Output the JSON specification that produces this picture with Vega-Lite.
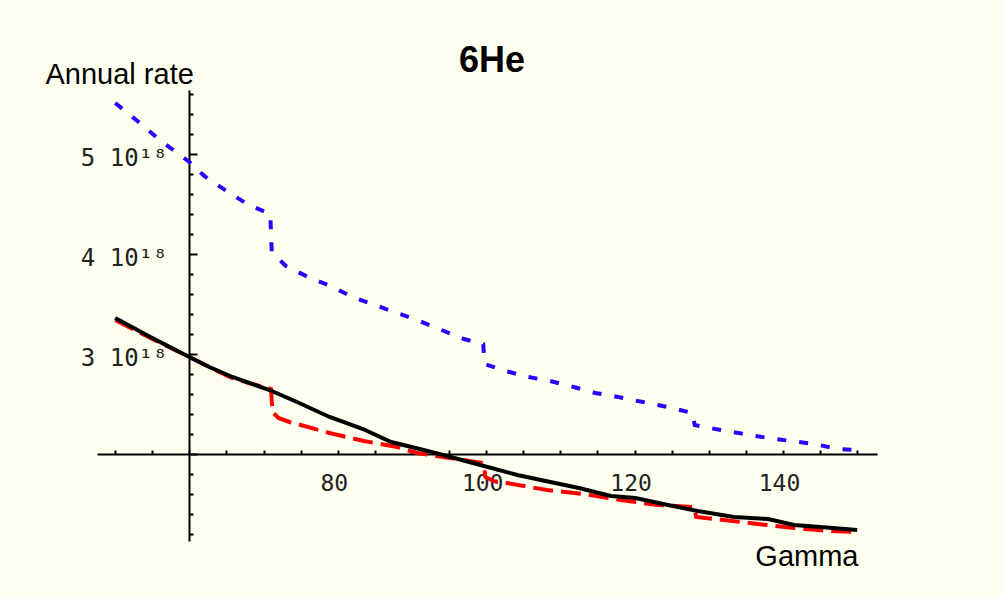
{
  "$schema": "https://vega.github.io/schema/vega-lite/v6.json",
  "width": 780,
  "height": 451,
  "autosize": {"type": "none"},
  "padding": {"left": 97, "top": 90, "right": 127, "bottom": 57},
  "background": "#FFFFF0",
  "config": {"view": {"stroke": null}},
  "title": {"text": "6He", "font": "Liberation Sans", "fontSize": 36, "fontWeight": "bold", "color": "#000000", "anchor": "middle", "frame": "group", "baseline": "alphabetic", "offset": -48, "dx": 5},
  "data": {"values": [
    {"series": "blue", "x": 50, "y": 5.51e18},
    {"series": "blue", "x": 53, "y": 5.33e18},
    {"series": "blue", "x": 56, "y": 5.14e18},
    {"series": "blue", "x": 60, "y": 4.92e18},
    {"series": "blue", "x": 62, "y": 4.78e18},
    {"series": "blue", "x": 65, "y": 4.63e18},
    {"series": "blue", "x": 68, "y": 4.49e18},
    {"series": "blue", "x": 70.9, "y": 4.40e18},
    {"series": "blue", "x": 71.1, "y": 4.02e18},
    {"series": "blue", "x": 73, "y": 3.88e18},
    {"series": "blue", "x": 76, "y": 3.77e18},
    {"series": "blue", "x": 79, "y": 3.68e18},
    {"series": "blue", "x": 82, "y": 3.57e18},
    {"series": "blue", "x": 85, "y": 3.49e18},
    {"series": "blue", "x": 88, "y": 3.41e18},
    {"series": "blue", "x": 91, "y": 3.33e18},
    {"series": "blue", "x": 94, "y": 3.24e18},
    {"series": "blue", "x": 97, "y": 3.15e18},
    {"series": "blue", "x": 99.6, "y": 3.10e18},
    {"series": "blue", "x": 99.8, "y": 2.90e18},
    {"series": "blue", "x": 102.6, "y": 2.83e18},
    {"series": "blue", "x": 105.7, "y": 2.77e18},
    {"series": "blue", "x": 108.6, "y": 2.73e18},
    {"series": "blue", "x": 111.8, "y": 2.67e18},
    {"series": "blue", "x": 114.7, "y": 2.61e18},
    {"series": "blue", "x": 117.8, "y": 2.57e18},
    {"series": "blue", "x": 121.1, "y": 2.52e18},
    {"series": "blue", "x": 124.5, "y": 2.47e18},
    {"series": "blue", "x": 127.8, "y": 2.41e18},
    {"series": "blue", "x": 128.1, "y": 2.29e18},
    {"series": "blue", "x": 131.6, "y": 2.24e18},
    {"series": "blue", "x": 134.7, "y": 2.20e18},
    {"series": "blue", "x": 138, "y": 2.16e18},
    {"series": "blue", "x": 141.1, "y": 2.13e18},
    {"series": "blue", "x": 144.2, "y": 2.10e18},
    {"series": "blue", "x": 147.4, "y": 2.05e18},
    {"series": "blue", "x": 150, "y": 2.04e18},
    {"series": "red", "x": 50, "y": 3.34e18},
    {"series": "red", "x": 55, "y": 3.15e18},
    {"series": "red", "x": 60, "y": 2.97e18},
    {"series": "red", "x": 62.7, "y": 2.87e18},
    {"series": "red", "x": 65.4, "y": 2.77e18},
    {"series": "red", "x": 68, "y": 2.71e18},
    {"series": "red", "x": 71, "y": 2.65e18},
    {"series": "red", "x": 71.2, "y": 2.42e18},
    {"series": "red", "x": 72, "y": 2.36e18},
    {"series": "red", "x": 73.5, "y": 2.32e18},
    {"series": "red", "x": 75, "y": 2.29e18},
    {"series": "red", "x": 78.9, "y": 2.21e18},
    {"series": "red", "x": 83.5, "y": 2.13e18},
    {"series": "red", "x": 88, "y": 2.07e18},
    {"series": "red", "x": 90.7, "y": 2.01e18},
    {"series": "red", "x": 95.1, "y": 1.96e18},
    {"series": "red", "x": 99.6, "y": 1.91e18},
    {"series": "red", "x": 99.9, "y": 1.77e18},
    {"series": "red", "x": 101, "y": 1.73e18},
    {"series": "red", "x": 102.8, "y": 1.71e18},
    {"series": "red", "x": 108.2, "y": 1.64e18},
    {"series": "red", "x": 113.1, "y": 1.60e18},
    {"series": "red", "x": 118.1, "y": 1.54e18},
    {"series": "red", "x": 123.1, "y": 1.49e18},
    {"series": "red", "x": 128, "y": 1.47e18},
    {"series": "red", "x": 128.3, "y": 1.37e18},
    {"series": "red", "x": 132, "y": 1.34e18},
    {"series": "red", "x": 136.6, "y": 1.30e18},
    {"series": "red", "x": 141.5, "y": 1.26e18},
    {"series": "red", "x": 146.1, "y": 1.23e18},
    {"series": "red", "x": 150, "y": 1.22e18},
    {"series": "black", "x": 50, "y": 3.36e18},
    {"series": "black", "x": 55, "y": 3.16e18},
    {"series": "black", "x": 60, "y": 2.97e18},
    {"series": "black", "x": 62.7, "y": 2.87e18},
    {"series": "black", "x": 65.8, "y": 2.77e18},
    {"series": "black", "x": 70.8, "y": 2.64e18},
    {"series": "black", "x": 74.5, "y": 2.52e18},
    {"series": "black", "x": 78.9, "y": 2.37e18},
    {"series": "black", "x": 83.4, "y": 2.25e18},
    {"series": "black", "x": 87.2, "y": 2.12e18},
    {"series": "black", "x": 90.5, "y": 2.06e18},
    {"series": "black", "x": 94.2, "y": 1.99e18},
    {"series": "black", "x": 99.2, "y": 1.89e18},
    {"series": "black", "x": 104.2, "y": 1.79e18},
    {"series": "black", "x": 108, "y": 1.73e18},
    {"series": "black", "x": 112.5, "y": 1.66e18},
    {"series": "black", "x": 116.8, "y": 1.58e18},
    {"series": "black", "x": 120.1, "y": 1.56e18},
    {"series": "black", "x": 124.5, "y": 1.49e18},
    {"series": "black", "x": 128.5, "y": 1.43e18},
    {"series": "black", "x": 133.4, "y": 1.37e18},
    {"series": "black", "x": 138, "y": 1.35e18},
    {"series": "black", "x": 141.5, "y": 1.29e18},
    {"series": "black", "x": 145, "y": 1.27e18},
    {"series": "black", "x": 150, "y": 1.24e18}
  ]},
  "encoding": {
    "x": {
      "field": "x", "type": "quantitative",
      "scale": {"domain": [47.55, 152.67], "nice": false, "zero": false},
      "axis": {
        "title": "Gamma", "titleFont": "Liberation Sans", "titleFontSize": 29, "titleFontWeight": "normal", "titleColor": "#000000",
        "titleAngle": 0, "titleAlign": "right", "titleBaseline": "alphabetic", "titleX": 761, "titleY": 111,
        "offset": -87,
        "values": [50, 55, 60, 65, 70, 75, 80, 85, 90, 95, 100, 105, 110, 115, 120, 125, 130, 135, 140, 145, 150],
        "labelExpr": "(datum.value % 20 == 0 && datum.value != 60) ? datum.value : ''",
        "labelFont": "DejaVu Sans Mono", "labelFontSize": 23, "labelColor": "#222222",
        "labelBaseline": "top", "labelPadding": 22, "labelOffset": -4, "labelFlush": false, "labelOverlap": false,
        "tickSize": -4, "tickWidth": 2, "tickColor": "#000000",
        "domainColor": "#000000", "domainWidth": 2, "grid": false
      }
    },
    "y": {
      "field": "y", "type": "quantitative",
      "scale": {"domain": [1.13e18, 5.64e18], "nice": false, "zero": false},
      "axis": {
        "title": "Annual rate", "titleFont": "Liberation Sans", "titleFontSize": 29, "titleFontWeight": "normal", "titleColor": "#000000",
        "titleAngle": 0, "titleAlign": "left", "titleBaseline": "alphabetic", "titleX": -144, "titleY": -7,
        "offset": -92,
        "values": [1.2e18, 1.4e18, 1.6e18, 1.8e18, 2e18, 2.2e18, 2.4e18, 2.6e18, 2.8e18, 3e18, 3.2e18, 3.4e18, 3.6e18, 3.8e18, 4e18, 4.2e18, 4.4e18, 4.6e18, 4.8e18, 5e18, 5.2e18, 5.4e18, 5.6e18],
        "labelExpr": "(abs(datum.value/1e18 - round(datum.value/1e18)) < 0.01 && round(datum.value/1e18) != 2) ? format(datum.value/1e18, 'd') + ' 10¹⁸' : ''",
        "labelFont": "DejaVu Sans Mono", "labelFontSize": 24, "labelColor": "#222222",
        "labelPadding": 30, "labelOffset": 4, "labelFlush": false, "labelOverlap": false,
        "tickSize": {"condition": {"test": "abs(datum.value/1e18 - round(datum.value/1e18)) < 0.01", "value": -8}, "value": -4},
        "tickWidth": 2, "tickColor": "#000000",
        "domainColor": "#000000", "domainWidth": 2, "grid": false
      }
    }
  },
  "layer": [
    {"transform": [{"filter": "datum.series === 'blue'"}], "mark": {"type": "line", "color": "#2a00ff", "strokeWidth": 4, "strokeDash": [9, 13]}},
    {"transform": [{"filter": "datum.series === 'red'"}], "mark": {"type": "line", "color": "#ff0000", "strokeWidth": 4, "strokeDash": [20, 8]}},
    {"transform": [{"filter": "datum.series === 'black'"}], "mark": {"type": "line", "color": "#000000", "strokeWidth": 4}}
  ]
}
